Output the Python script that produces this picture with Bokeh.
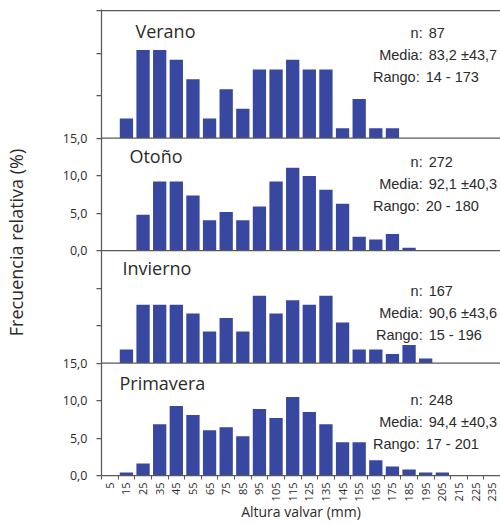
import math
from bokeh.plotting import figure
from bokeh.models import Range1d, FixedTicker, Span, Label
from bokeh.embed import file_html
from bokeh.resources import INLINE

# Shell-height classes (mm), bin centres
bins = [5, 15, 25, 35, 45, 55, 65, 75, 85, 95, 105, 115,
        125, 135, 145, 155, 165, 175, 185, 195, 205, 215, 225, 235]
bin_edges = list(range(0, 250, 10))

# Relative frequency (%) per class and season
verano = [0, 2.30, 10.34, 10.34, 9.20, 6.90, 2.30, 5.75, 3.45, 8.05, 8.05, 9.20,
          8.05, 8.05, 1.15, 4.60, 1.15, 1.15, 0, 0, 0, 0, 0, 0]
otono = [0, 0, 4.78, 9.19, 9.19, 7.35, 4.04, 5.15, 4.04, 5.88, 9.19, 11.03,
         9.93, 8.09, 6.25, 1.84, 1.47, 2.21, 0.37, 0, 0, 0, 0, 0]
invierno = [0, 1.80, 7.78, 7.78, 7.78, 6.59, 4.19, 5.99, 4.19, 8.98, 6.59, 8.38,
            7.78, 8.98, 5.39, 1.80, 1.80, 1.20, 2.40, 0.60, 0, 0, 0, 0]
primavera = [0, 0.40, 1.61, 6.85, 9.27, 8.06, 6.05, 6.45, 5.24, 8.87, 7.66, 10.48,
             8.47, 6.85, 4.44, 4.44, 2.02, 1.21, 0.81, 0.40, 0.40, 0, 0, 0]

seasons = ["Verano", "Otoño", "Invierno", "Primavera"]
freqs = [verano, otono, invierno, primavera]
n_values = ["87", "272", "167", "248"]
media_values = ["83,2 ±43,7", "92,1 ±40,3", "90,6 ±43,6", "94,4 ±40,3"]
rango_values = ["14 - 173", "20 - 180", "15 - 196", "17 - 201"]
y_ticks = [0, 5, 10, 15]
y_tick_labels = ["0,0", "5,0", "10,0", "15,0"]

# Stacked-panel layout: baseline (px above frame bottom) and px per 1 %
FRAME_H = 466
panel_base = [337.5, 225.0, 112.5, 0.0]
panel_scale = [8.5, 7.5, 7.5, 7.5]
panel_labelled = [False, True, False, True]
title_x = [20.4, 16.8, 12.6, 10.8]        # mm
title_y = [11.94, 11.77, 11.93, 11.6]     # % (panel units)
stats_y = [11.67, 11.03, 8.77, 9.33]      # % (panel units), first row
stats_shift = [-3, -3, 0, -3]             # px, "Rango" row
ROW_GAP = 22
RAISE = 6

BAR = "#3847A0"
AXIS = "#595959"
TXT = "#2b2b2b"

p = figure(width=500, height=524, output_backend="svg", toolbar_location=None,
           x_range=Range1d(0, 240), y_range=Range1d(0, FRAME_H),
           min_border_left=100, min_border_right=0,
           min_border_top=9, min_border_bottom=49)
p.outline_line_color = None
p.xgrid.visible = False
p.ygrid.visible = False
p.background_fill_color = "white"

tick_pos = {}
for i in range(4):
    b, s = panel_base[i], panel_scale[i]
    rname = "panel%d" % i
    p.extra_y_ranges[rname] = Range1d(-b / s, (FRAME_H - b) / s)
    p.vbar(x=bins, top=freqs[i], bottom=0, width=8, y_range_name=rname,
           fill_color=BAR, line_color=None)

    for t, lab in zip(y_ticks, y_tick_labels):
        pos = b + s * t
        if panel_labelled[i]:
            tick_pos[pos] = lab
        else:
            tick_pos.setdefault(pos, "")

    if i < 3:
        p.add_layout(Span(location=b, dimension="width", line_color=AXIS,
                          line_width=1.25))

    p.add_layout(Label(x=title_x[i], y=title_y[i], y_range_name=rname,
                       y_offset=RAISE,
                       text=seasons[i], text_font="Open Sans",
                       text_font_size="18px", text_color=TXT,
                       text_baseline="alphabetic", text_align="left"))

    rows = [("n:", n_values[i]), ("Media:", media_values[i]),
            ("Rango:", rango_values[i])]
    for k, (lab, val) in enumerate(rows):
        shift = stats_shift[i] if k == 2 else 0
        p.add_layout(Label(x=193.2, y=stats_y[i], y_range_name=rname,
                           x_offset=shift, y_offset=RAISE - ROW_GAP * k,
                           text=lab, text_font="Liberation Sans",
                           text_font_size="14.5px", text_color=TXT,
                           text_align="right", text_baseline="alphabetic"))
        p.add_layout(Label(x=196.8, y=stats_y[i], y_range_name=rname,
                           x_offset=shift, y_offset=RAISE - ROW_GAP * k,
                           text=val, text_font="Liberation Sans",
                           text_font_size="14.5px", text_color=TXT,
                           text_align="left", text_baseline="alphabetic"))

# top border of the first panel
top_line = panel_base[0] + panel_scale[0] * 15
p.add_layout(Span(location=top_line, dimension="width", line_color=AXIS,
                  line_width=1.25))

# y axis: one continuous axis carrying every panel's ticks
ticks = sorted(tick_pos)
yax = p.yaxis[0]
yax.ticker = FixedTicker(ticks=ticks)
yax.major_label_overrides = {t: tick_pos[t] for t in ticks}
yax.major_tick_out = 5
yax.major_tick_in = 0
yax.minor_tick_out = 0
yax.minor_tick_in = 0
yax.major_label_standoff = 9
yax.axis_line_color = AXIS
yax.axis_line_width = 1.25
yax.major_tick_line_color = AXIS
yax.major_tick_line_width = 1.25
yax.major_label_text_font = "Open Sans"
yax.major_label_text_font_size = "12.5px"
yax.major_label_text_color = TXT
yax.axis_label = "Frecuencia relativa (%)"
yax.axis_label_text_font = "Open Sans"
yax.axis_label_text_font_size = "18px"
yax.axis_label_text_font_style = "normal"
yax.axis_label_text_color = TXT
yax.axis_label_standoff = 32

# x axis: labels at class centres, tick marks between classes
xax = p.xaxis[0]
xax.ticker = FixedTicker(ticks=bins, minor_ticks=bin_edges)
xax.major_label_orientation = math.pi / 2
xax.major_tick_out = 0
xax.major_tick_in = 0
xax.minor_tick_out = 4
xax.minor_tick_in = 0
xax.minor_tick_line_color = AXIS
xax.major_label_standoff = 3
xax.axis_line_color = AXIS
xax.axis_line_width = 1.25
xax.major_label_text_font = "Open Sans"
xax.major_label_text_font_size = "11px"
xax.major_label_text_color = TXT
xax.axis_label = "Altura valvar (mm)"
xax.axis_label_text_font = "Open Sans"
xax.axis_label_text_font_size = "14px"
xax.axis_label_text_font_style = "normal"
xax.axis_label_text_color = TXT
xax.axis_label_standoff = -2

open("out.html", "w").write(file_html(p, INLINE))
